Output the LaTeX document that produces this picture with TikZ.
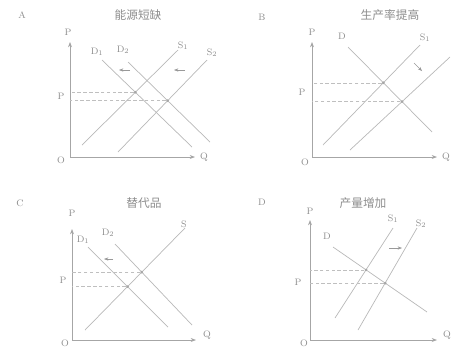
\documentclass[tikz,border=0pt]{standalone}
\usepackage{fontspec}
\newfontfamily\cjk{Noto Sans CJK SC}
\usetikzlibrary{arrows.meta}

\begin{document}
\begin{tikzpicture}[x=0.03cm,y=-0.03cm,
  axis/.style={-{Stealth[length=1.6mm]},semithick,draw=black!35},
  curve/.style={semithick,draw=black!28},
  guide/.style={densely dashed,thin,draw=black!25},
  shiftarr/.style={-{Stealth[length=1.3mm]},thin,draw=black!40},
  lab/.style={font=\footnotesize,text=black!45,inner sep=1pt},
  ttl/.style={font=\cjk\normalsize,text=black!45},
  eq/.style={circle,fill=black!35,inner sep=0pt,minimum size=2.5pt}
]
\useasboundingbox (0,0) rectangle (455,350);

% panel A
\node[lab] (aLetter) at (22,15) {A};
\node[ttl] (aTitle) at (138,15) {能源短缺};
\coordinate (aO) at (70,157);
\draw[axis] (aO)--(70,42) coordinate (aP);
\draw[axis] (aO)--(195,157) coordinate (aQ);
\node[lab] (aPl) at (68,32) {P};
\node[lab] (aQl) at (204,157) {Q};
\node[lab] (aOl) at (61,160) {O};
\coordinate (aD1s) at (102,60); \coordinate (aD1e) at (192,147);
\coordinate (aD2s) at (128,62); \coordinate (aD2e) at (210,142);
\coordinate (aS1s) at (82,145); \coordinate (aS1e) at (178,50);
\coordinate (aS2s) at (118,152); \coordinate (aS2e) at (207,60);
\draw[curve] (aD1s)--(aD1e);
\draw[curve] (aD2s)--(aD2e);
\draw[curve] (aS1s)--(aS1e);
\draw[curve] (aS2s)--(aS2e);
\node[lab] (aD1l) at (97,52) {D$_1$};
\node[lab] (aD2l) at (123,50) {D$_2$};
\node[lab] (aS1l) at (183,46) {S$_1$};
\node[lab] (aS2l) at (212,53) {S$_2$};
\node[eq] (aE1) at (intersection of aD1s--aD1e and aS1s--aS1e) {};
\node[eq] (aE2) at (intersection of aD2s--aD2e and aS2s--aS2e) {};
\draw[guide] (aE1)--(aE1 -| aO);
\draw[guide] (aE2)--(aE2 -| aO);
\node[lab] (aPe) at (61,96) {P};
\coordinate (aA1) at (130,70); \coordinate (aA2) at (119,70);
\draw[shiftarr] (aA1)--(aA2);
\coordinate (aA3) at (185,70); \coordinate (aA4) at (174,70);
\draw[shiftarr] (aA3)--(aA4);

% panel B
\node[lab] (bLetter) at (262,17) {B};
\node[ttl] (bTitle) at (390,15) {生产率提高};
\coordinate (bO) at (312,157);
\draw[axis] (bO)--(312,42) coordinate (bP);
\draw[axis] (bO)--(437,157) coordinate (bQ);
\node[lab] (bPl) at (312,32) {P};
\node[lab] (bQl) at (446,157) {Q};
\node[lab] (bOl) at (305,162) {O};
\coordinate (bDs) at (348,47); \coordinate (bDe) at (432,132);
\coordinate (bS1s) at (323,145); \coordinate (bS1e) at (420,45);
\coordinate (bS2s) at (350,150); \coordinate (bS2e) at (450,57);
\draw[curve] (bDs)--(bDe);
\draw[curve] (bS1s)--(bS1e);
\draw[curve] (bS2s)--(bS2e);
\node[lab] (bDl) at (342,36) {D};
\node[lab] (bS1l) at (425,38) {S$_1$};
\node[eq] (bE1) at (intersection of bDs--bDe and bS1s--bS1e) {};
\node[eq] (bE2) at (intersection of bDs--bDe and bS2s--bS2e) {};
\draw[guide] (bE1)--(bE1 -| bO);
\draw[guide] (bE2)--(bE2 -| bO);
\node[lab] (bPe) at (302,92) {P};
\coordinate (bA1) at (414,63); \coordinate (bA2) at (422,71);
\draw[shiftarr] (bA1)--(bA2);

% panel C
\node[lab] (cLetter) at (20,203) {C};
\node[ttl] (cTitle) at (144,203) {替代品};
\coordinate (cO) at (72,340);
\draw[axis] (cO)--(72,229) coordinate (cP);
\draw[axis] (cO)--(196,340) coordinate (cQ);
\node[lab] (cPl) at (72,213) {P};
\node[lab] (cQl) at (207,335) {Q};
\node[lab] (cOl) at (65,343) {O};
\coordinate (cD1s) at (88,247); \coordinate (cD1e) at (168,327);
\coordinate (cD2s) at (115,244); \coordinate (cD2e) at (192,325);
\coordinate (cSs) at (85,330); \coordinate (cSe) at (185,228);
\draw[curve] (cD1s)--(cD1e);
\draw[curve] (cD2s)--(cD2e);
\draw[curve] (cSs)--(cSe);
\node[lab] (cD1l) at (83,240) {D$_1$};
\node[lab] (cD2l) at (108,233) {D$_2$};
\node[lab] (cSl) at (184,224) {S};
\node[eq] (cE1) at (intersection of cD1s--cD1e and cSs--cSe) {};
\node[eq] (cE2) at (intersection of cD2s--cD2e and cSs--cSe) {};
\draw[guide] (cE1)--(cE1 -| cO);
\draw[guide] (cE2)--(cE2 -| cO);
\node[lab] (cPe) at (63,280) {P};
\coordinate (cA1) at (113,259); \coordinate (cA2) at (104,259);
\draw[shiftarr] (cA1)--(cA2);

% panel D
\node[lab] (dLetter) at (262,202) {D};
\node[ttl] (dTitle) at (363,203) {产量增加};
\coordinate (dO) at (310,340);
\draw[axis] (dO)--(310,220) coordinate (dP);
\draw[axis] (dO)--(437,340) coordinate (dQ);
\node[lab] (dPl) at (310,211) {P};
\node[lab] (dQl) at (447,335) {Q};
\node[lab] (dOl) at (304,343) {O};
\coordinate (dDs) at (333,247); \coordinate (dDe) at (427,312);
\coordinate (dS1s) at (335,318); \coordinate (dS1e) at (393,228);
\coordinate (dS2s) at (358,330); \coordinate (dS2e) at (417,228);
\draw[curve] (dDs)--(dDe);
\draw[curve] (dS1s)--(dS1e);
\draw[curve] (dS2s)--(dS2e);
\node[lab] (dDl) at (327,236) {D};
\node[lab] (dS1l) at (393,219) {S$_1$};
\node[lab] (dS2l) at (421,224) {S$_2$};
\node[eq] (dE1) at (intersection of dDs--dDe and dS1s--dS1e) {};
\node[eq] (dE2) at (intersection of dDs--dDe and dS2s--dS2e) {};
\draw[guide] (dE1)--(dE1 -| dO);
\draw[guide] (dE2)--(dE2 -| dO);
\node[lab] (dPe) at (298,282) {P};
\coordinate (dA1) at (389,248); \coordinate (dA2) at (402,248);
\draw[shiftarr] (dA1)--(dA2);
\end{tikzpicture}
\end{document}
